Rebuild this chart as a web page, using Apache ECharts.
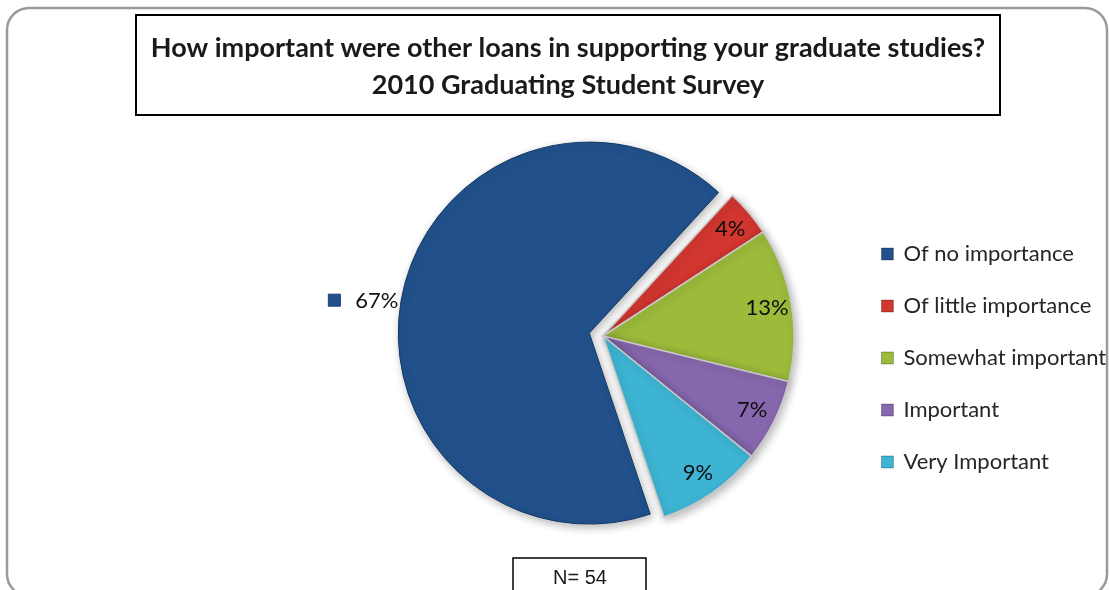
<!DOCTYPE html>
<html>
<head>
<meta charset="utf-8">
<title>Other loans – 2010 Graduating Student Survey</title>
<script src="https://cdn.jsdelivr.net/npm/echarts@6/dist/echarts.min.js"></script>
<style>
  html, body { margin: 0; padding: 0; background: #ffffff; }
  #chart { width: 1109px; height: 590px; }
</style>
</head>
<body>
<div id="chart"></div>
<script>
// Survey answers (percent of respondents)
const categories = ['Of no importance', 'Of little importance', 'Somewhat important', 'Important', 'Very Important'];
const percents = [67, 4, 13, 7, 9];
const sampleSize = 54;
const titleLines = ['How important were other loans in supporting your graduate studies?', '2010 Graduating Student Survey'];

const palette = ['#21508a', '#d1362f', '#9cbb3b', '#8667ad', '#3db4d3'];
const borders = ['#143a68', '#c9c9c9', '#c9c9c9', '#c9c9c9', '#c9c9c9'];

const FONT = 'Lato, "Open Sans", sans-serif';
const PIE_CENTER = [603, 336];
const PIE_R = 191;
const START = -71.4;

const chart = echarts.init(document.getElementById('chart'), null, { renderer: 'canvas' });

const sliceData = categories.map((name, i) => ({
  name,
  value: percents[i],
  selected: i === 0,
  itemStyle: { color: palette[i], borderColor: borders[i], borderWidth: i === 0 ? 1 : 1.5 },
  label: i === 0 ? {
    show: true,
    position: 'outside',
    formatter: '{k|}{v|{c}%}',
    rich: {
      k: { width: 12, height: 12, backgroundColor: palette[0], borderColor: '#0f2f57', borderWidth: 0.5 },
      v: { fontFamily: FONT, fontSize: 22, color: '#111111', padding: [2, 0, 0, 15] }
    }
  } : { show: false }
}));

const labelData = categories.map((name, i) => ({
  name,
  value: percents[i],
  label: { show: i !== 0 }
}));

chart.setOption({
  animation: false,
  backgroundColor: '#ffffff',
  legend: {
    orient: 'vertical',
    left: 876,
    top: 236,
    icon: 'rect',
    itemWidth: 12,
    itemHeight: 12,
    itemGap: 26,
    selectedMode: false,
    data: categories.map((name, i) => ({ name, itemStyle: { color: palette[i], borderColor: 'rgba(0,0,0,0.35)', borderWidth: 0.8 } })),
    textStyle: { fontFamily: FONT, fontSize: 22, color: '#262626', lineHeight: 26, padding: [0, 0, 0, 5] }
  },
  graphic: [
    {
      type: 'rect', silent: true,
      shape: { x: 7, y: 8, width: 1100, height: 588, r: 22 },
      style: { fill: 'none', stroke: '#9a9a9a', lineWidth: 2.5 }
    },
    {
      type: 'rect', silent: true,
      shape: { x: 136, y: 15, width: 864, height: 100 },
      style: { fill: '#ffffff', stroke: '#000000', lineWidth: 2 }
    },
    {
      type: 'text', silent: true,
      style: {
        x: 568, y: 48, text: titleLines[0], align: 'center', verticalAlign: 'middle',
        font: 'bold 27px ' + FONT, fill: '#1a1a1a'
      }
    },
    {
      type: 'text', silent: true,
      style: {
        x: 568, y: 85, text: titleLines[1], align: 'center', verticalAlign: 'middle',
        font: 'bold 27px ' + FONT, fill: '#1a1a1a'
      }
    },
    {
      type: 'rect', silent: true,
      shape: { x: 513, y: 558, width: 133, height: 40 },
      style: { fill: '#ffffff', stroke: '#000000', lineWidth: 1.5 }
    },
    {
      type: 'text', silent: true,
      style: {
        x: 580, y: 578, text: 'N= ' + sampleSize, align: 'center', verticalAlign: 'middle',
        font: '20px "Liberation Sans", Arial, sans-serif', fill: '#1a1a1a'
      }
    }
  ],
  series: [
    {
      name: 'slices',
      type: 'pie',
      center: PIE_CENTER,
      radius: [0, PIE_R],
      startAngle: START,
      clockwise: true,
      selectedMode: 'single',
      selectedOffset: 14,
      avoidLabelOverlap: false,
      silent: true,
      emphasis: { disabled: true },
      itemStyle: {
        shadowBlur: 8,
        shadowColor: 'rgba(0,0,0,0.28)',
        shadowOffsetX: 2,
        shadowOffsetY: 3
      },
      labelLine: { show: false, length: 1, length2: 0 },
      labelLayout: { dy: 7, dx: 2 },
      data: sliceData
    },
    {
      name: 'values',
      type: 'pie',
      center: PIE_CENTER,
      radius: [136, PIE_R],
      startAngle: START,
      clockwise: true,
      silent: true,
      emphasis: { disabled: true },
      itemStyle: { color: 'transparent', borderWidth: 0 },
      label: {
        show: true,
        position: 'inside',
        formatter: '{c}%',
        fontFamily: FONT,
        fontSize: 22,
        color: '#0d0d0d'
      },
      labelLine: { show: false },
      data: labelData
    }
  ]
});
</script>
</body>
</html>
